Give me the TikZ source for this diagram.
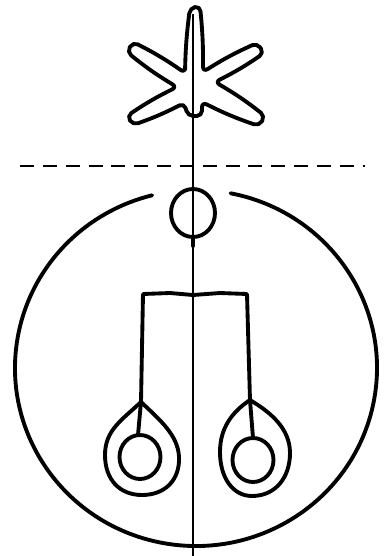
\documentclass[tikz,border=0pt]{standalone}
\usepackage{tikz}

\begin{document}
\begin{tikzpicture}[x=0.02cm, y=-0.02cm,
    ink/.style={line width=2.2pt, line cap=round, line join=round},
    hair/.style={line width=0.9pt},
    horizon/.style={line width=0.8pt, dash pattern=on 8pt off 5pt}]
    \useasboundingbox (0,0) rectangle (387,556);

    \coordinate (ctr) at (196,368);
    \coordinate (knot) at (193,213);
    \coordinate (lfoot) at (141,402);
    \coordinate (rfoot) at (250,400);

    % star on top
    \draw[ink, rounded corners=3pt] (185,73) to[bend left=3] (190,8) -- (200,6) to[bend left=3] (203,72)
        to[bend left=4] (257,43) -- (264,53) to[bend left=4] (215,82)
        to[bend left=4] (265,116) -- (259,126) to[bend left=4] (202,102)
        -- (202,116) -- (188,116) -- (184,103)
        to[bend left=4] (133,125) -- (127,116) to[bend left=4] (177,87)
        to[bend left=4] (127,52) -- (133,42) to[bend left=4] cycle;

    % axis and horizon
    \draw[hair] (193,14) -- (193,556);
    \draw[horizon] (20,166) -- (365,166);

    % small circle and open big circle
    \draw[ink] (knot) circle[x radius=22, y radius=24];
    \draw[ink] (193,237) -- (193,246);
    \draw[ink] ([shift={(-79:181 and 178)}]ctr) arc[start angle=-79, end angle=256, x radius=181, y radius=178];

    % fork
    \draw[ink] (lfoot) -- (143,294) -- (170,293) -- (193,295) -- (220,293) -- (247,294) -- (rfoot);

    % left drop
    \draw[ink] (lfoot) .. controls (122,420) and (105,430) .. (105,455)
        .. controls (105,480) and (120,495) .. (142,495)
        .. controls (165,495) and (180,480) .. (179,457)
        .. controls (178,435) and (160,420) .. (lfoot);
    \draw[ink] (lfoot) -- (138,435);
    \draw[ink] (140,457) circle[x radius=20.5, y radius=22];

    % right drop
    \draw[ink] (rfoot) .. controls (232,412) and (220,428) .. (220,452)
        .. controls (220,478) and (233,496) .. (252,496)
        .. controls (275,496) and (290,478) .. (290,453)
        .. controls (290,428) and (270,412) .. (rfoot);
    \draw[ink] (rfoot) -- (253,438);
    \draw[ink] (253,460) circle[x radius=20.5, y radius=22];
\end{tikzpicture}
\end{document}
